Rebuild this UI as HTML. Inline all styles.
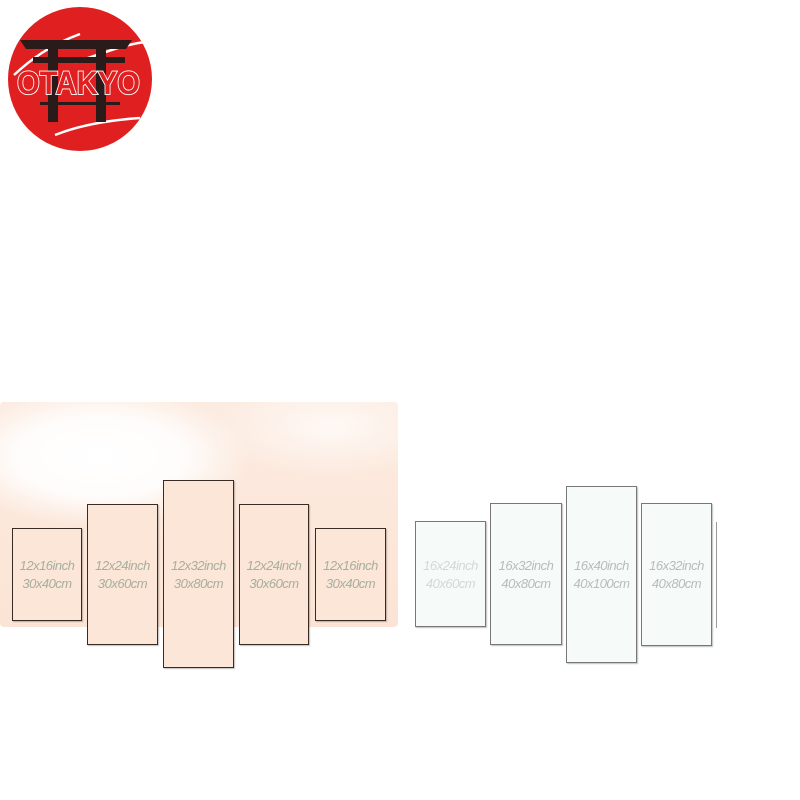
<!DOCTYPE html>
<html><head><meta charset="utf-8"><style>
html,body{margin:0;padding:0;background:#fff;}
#c{position:relative;width:800px;height:800px;overflow:hidden;background:#fff;font-family:"Liberation Sans",sans-serif;}
.bg{position:absolute;left:0;top:402px;width:398px;height:225px;border-radius:4px;
background:radial-gradient(ellipse 150px 70px at 100px 55px,#fff 0%,rgba(255,255,255,0.9) 55%,rgba(255,255,255,0) 100%),
radial-gradient(ellipse 120px 50px at 330px 25px,rgba(255,255,255,0.7) 0%,rgba(255,255,255,0) 100%),
linear-gradient(180deg,#fcebe0 0%,#fbe4d5 100%);}
.p{position:absolute;box-sizing:border-box;border:1.5px solid #3a2a24;background:#fbe6d8;box-shadow:1px 1px 1px rgba(0,0,0,0.25);}
.w{background:#f6fbfa;border:1px solid #777;}
.t{position:absolute;left:0;right:0;text-align:center;font-style:italic;font-size:13px;line-height:18px;color:#a6ae9e;letter-spacing:-0.5px;}
.w .t{color:#b8bcb8;}
</style></head><body><div id="c">
<div class="bg"></div>
<svg style="position:absolute;left:0;top:0" width="160" height="160">
<circle cx="80" cy="79" r="72" fill="#e02020"/>
<path d="M14 75 C30 60,50 45,80 34" stroke="#fff" stroke-width="2.5" fill="none"/>
<path d="M75 62 C100 55,120 45,145 42" stroke="#fff" stroke-width="2.5" fill="none"/>
<path d="M55 135 C80 125,110 120,140 118" stroke="#fff" stroke-width="2.5" fill="none"/>
<path d="M20 40 L132 40 L126 49 L26 49Z" fill="#2a1a1a"/>
<rect x="33" y="57" width="92" height="6" fill="#2a1a1a"/>
<rect x="48" y="48" width="10" height="74" fill="#2a1a1a"/>
<rect x="96" y="48" width="10" height="74" fill="#2a1a1a"/>
<rect x="40" y="102" width="80" height="3" fill="#2a1a1a"/>
<text x="17" y="94" font-family="Liberation Sans" font-weight="bold" font-size="32" fill="#e02020" stroke="#fff" stroke-width="1.8" paint-order="stroke" textLength="123" lengthAdjust="spacingAndGlyphs">OTAKYO</text>
</svg>
<div class="p" style="left:12px;top:528px;width:70px;height:93px"><div class="t" style="top:28px">12x16inch<br>30x40cm</div></div>
<div class="p" style="left:87px;top:504px;width:71px;height:141px"><div class="t" style="top:52px">12x24inch<br>30x60cm</div></div>
<div class="p" style="left:163px;top:480px;width:71px;height:188px"><div class="t" style="top:76px">12x32inch<br>30x80cm</div></div>
<div class="p" style="left:239px;top:504px;width:70px;height:141px"><div class="t" style="top:52px">12x24inch<br>30x60cm</div></div>
<div class="p" style="left:315px;top:528px;width:71px;height:93px"><div class="t" style="top:28px">12x16inch<br>30x40cm</div></div>
<div class="p w" style="left:415px;top:521px;width:71px;height:106px"><div class="t" style="top:35px;color:#d4d8d4">16x24inch<br>40x60cm</div></div>
<div class="p w" style="left:490px;top:503px;width:72px;height:142px"><div class="t" style="top:53px">16x32inch<br>40x80cm</div></div>
<div class="p w" style="left:566px;top:486px;width:71px;height:177px"><div class="t" style="top:70px">16x40inch<br>40x100cm</div></div>
<div class="p w" style="left:641px;top:503px;width:71px;height:143px"><div class="t" style="top:53px">16x32inch<br>40x80cm</div></div>
<div style="position:absolute;left:716px;top:522px;width:1px;height:106px;background:#999"></div>
</div></body></html>
